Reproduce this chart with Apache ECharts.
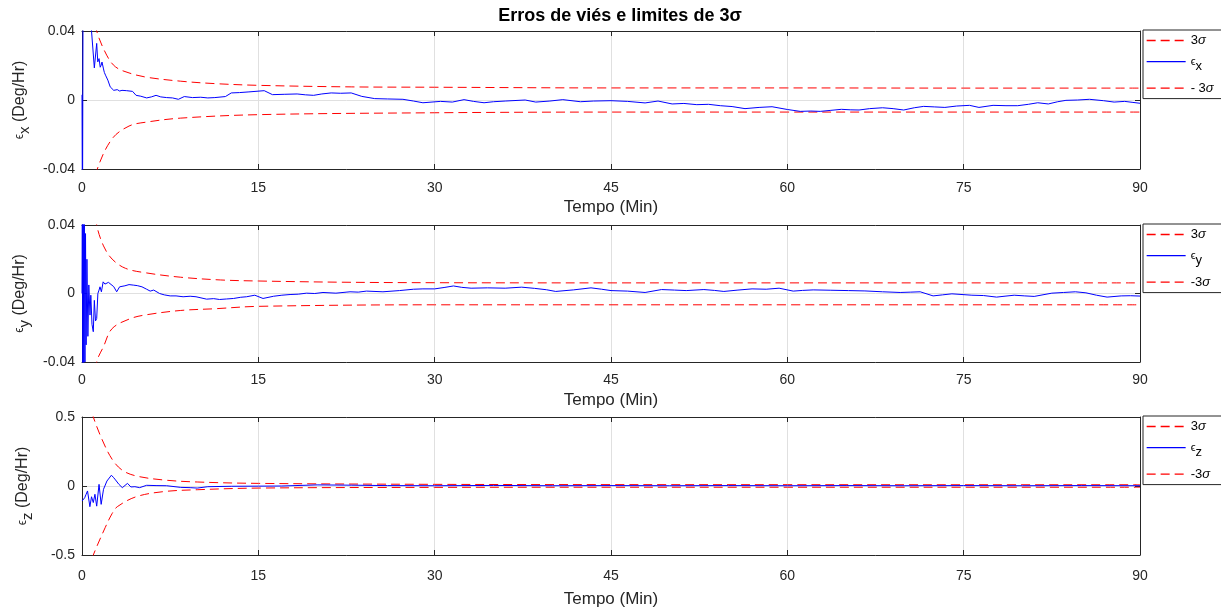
<!DOCTYPE html>
<html>
<head>
<meta charset="utf-8">
<script src="https://cdn.jsdelivr.net/npm/echarts@6/dist/echarts.min.js"></script>
<style>html,body{margin:0;padding:0;background:#fff;}#c{width:1221px;height:610px;}</style>
</head>
<body>
<div id="c"></div>
<script>
// ---------- data ----------
const xTicks = [0, 15, 30, 45, 60, 75, 90];

// plot 1 (epsilon x)
const sx_up_t = [1.0, 1.25, 2.1, 2.85, 4.0, 5.5, 8.4, 11.3, 15, 22.9, 30, 45, 60, 75, 90];
const sx_up_v = [0.052, 0.040, 0.026, 0.0192, 0.0157, 0.0132, 0.0109, 0.0095, 0.0085, 0.0076, 0.0074, 0.0070, 0.0070, 0.0069, 0.0069];
const sx_lo_t = [1.0, 1.3, 2.56, 4.0, 5.5, 8.4, 15, 30, 45, 60, 75, 90];
const sx_lo_v = [-0.052, -0.040, -0.0225, -0.0151, -0.0128, -0.0105, -0.0085, -0.0074, -0.0070, -0.0070, -0.0070, -0.0070];
const ex_t = [0,0.04,0.1,0.5,0.81,1.05,1.25,1.34,1.45,1.55,1.63,1.7,1.83,1.9,2.0,2.2,2.4,2.7,3.0,3.2,3.4,3.8,4.3,4.6,5.0,5.5,5.9,6.3,6.7,7.2,7.7,8.2,8.7,9.4,10.1,10.7,11.3,12.2,12.7,13.4,14.2,15.5,16.2,17.2,18.3,19.0,19.7,20.4,21.2,22.0,22.9,23.8,24.9,26.0,27.3,28.2,29.0,30.5,31.5,32.5,33.3,34.2,35.0,36.0,37.7,38.6,39.8,40.9,42.4,43.5,45,46.4,47.9,49.0,50.2,51.2,52.3,53.3,54.3,55.3,56.4,57.6,58.7,60.0,61.1,62.0,62.8,63.7,64.6,65.4,66.1,67.0,68.1,69.0,69.9,70.8,71.6,72.5,73.4,74.4,75.5,76.3,77.5,78.6,79.6,80.5,81.3,82.2,83.0,83.7,84.7,85.7,86.9,87.8,88.7,89.4,90];
const ex_v = [0.003,-0.08,0.09,0.07,0.04,0.0186,0.0328,0.0221,0.024,0.019,0.0202,0.022,0.018,0.016,0.0144,0.0115,0.0076,0.0056,0.006,0.0052,0.0056,0.0054,0.005,0.0027,0.0022,0.0012,0.0018,0.0027,0.0018,0.0014,0.0012,0.0004,0.002,0.0014,0.0016,0.0012,0.0014,0.002,0.0041,0.0043,0.0047,0.0054,0.0031,0.0033,0.0035,0.003,0.0027,0.0035,0.0041,0.0039,0.0041,0.0021,0.0008,0.0006,0.0004,-0.0006,-0.0016,-0.0008,-0.0012,0.0002,-0.0008,-0.0016,-0.001,-0.0006,0,-0.0012,-0.0006,0.0002,-0.001,-0.0006,-0.0004,-0.0008,-0.0017,-0.0006,-0.0023,-0.002,-0.0027,-0.0025,-0.0033,-0.0038,-0.005,-0.0043,-0.0039,-0.0055,-0.0066,-0.0064,-0.0066,-0.006,-0.0054,-0.0057,-0.0058,-0.005,-0.0045,-0.005,-0.0058,-0.0045,-0.0037,-0.004,-0.0043,-0.0035,-0.0031,-0.0043,-0.0031,-0.0033,-0.0033,-0.0025,-0.0016,-0.0023,-0.001,-0.0002,0,0.0004,-0.0004,-0.0012,-0.0008,-0.0014,-0.0019];

// plot 2 (epsilon y)
const sy_up_t = [1.2, 1.25, 1.83, 2.56, 3.7, 5.5, 8.4, 11.8, 15, 22, 30, 45, 60, 75, 90];
const sy_up_v = [0.045, 0.040, 0.0278, 0.0201, 0.0147, 0.012, 0.0095, 0.0079, 0.0073, 0.0066, 0.0063, 0.0062, 0.0062, 0.0062, 0.0062];
const sy_lo_t = [1.2, 1.25, 1.83, 2.56, 4.1, 5.5, 8.4, 11.3, 15, 30, 45, 60, 75, 90];
const sy_lo_v = [-0.045, -0.040, -0.031, -0.0205, -0.0147, -0.0124, -0.0099, -0.0089, -0.0075, -0.0066, -0.0066, -0.0066, -0.0066, -0.0066];
const ey_t = [0,0.03,0.07,0.11,0.15,0.2,0.25,0.3,0.35,0.42,0.5,0.58,0.68,0.75,0.85,0.96,1.05,1.15,1.25,1.35,1.45,1.53,1.65,1.8,1.95,2.1,2.25,2.4,2.7,2.95,3.2,3.65,4.0,4.36,4.7,5.1,5.5,5.8,6.1,6.6,7.0,7.5,8.0,8.6,9.2,9.7,10.6,11.2,11.7,12.3,12.9,13.5,14.0,14.7,15.4,16.3,17.0,17.7,18.4,19.1,19.8,20.5,21.6,22.8,23.5,24.2,25.6,27,28.2,29.0,30,30.8,31.6,32.3,33.1,34.5,36,37.4,38.5,39.5,40.3,41.8,43.3,44.2,45,46.4,47.9,49.3,50.4,51.4,52.9,53.8,54.6,55.8,57,58.2,59.3,60.5,61.3,62.2,63.7,65.2,66.6,68.1,69.6,70.5,71.3,72.4,73.2,74,75.7,76.7,77.8,78.6,79.3,80.2,81,82.5,83.5,84.5,85.4,86.3,87.2,88.4,89.2,90];
const ey_v = [0,0.06,-0.06,0.05,-0.05,0.045,-0.04,0.035,-0.03,0.02,-0.025,0.005,-0.0126,-0.001,-0.018,-0.0223,-0.004,-0.016,-0.0146,0,0.002,0.0039,0.001,0.0068,0.0055,0.0049,0.0065,0.0058,0.004,0.001,0.0039,0.0045,0.0052,0.0049,0.0046,0.0039,0.0025,0.0014,0.002,0,-0.0008,-0.0014,-0.0014,-0.0019,-0.0016,-0.0019,-0.0033,-0.003,-0.0035,-0.0032,-0.0029,-0.0022,-0.0019,-0.001,-0.0029,-0.0016,-0.001,-0.0006,-0.0004,0.0002,0,0.0006,0.0002,0.001,0.0008,0.0014,0.001,0.0017,0.0025,0.0027,0.0027,0.0035,0.0044,0.0036,0.0031,0.0033,0.0031,0.0037,0.003,0.0022,0.0012,0.0021,0.0033,0.0025,0.0017,0.0014,0.0006,0.0023,0.002,0.0017,0.0023,0.0018,0.0012,0.002,0.0027,0.0025,0.0031,0.0014,0.0018,0.0021,0.0019,0.0017,0.0015,0.001,0.0006,0.0008,0.001,-0.0014,-0.0008,-0.0002,-0.001,-0.0012,-0.0021,-0.0015,-0.001,-0.0014,-0.0017,0.0002,0.0006,0.001,0.0004,-0.001,-0.0021,-0.0014,-0.0013,-0.0015];

// plot 3 (epsilon z)
const sz_up_t = [0.9, 0.96, 1.69, 2.56, 3.43, 4.6, 6.9, 9.8, 15, 30, 45, 60, 75, 90];
const sz_up_v = [0.53, 0.50, 0.34, 0.194, 0.114, 0.073, 0.044, 0.029, 0.019, 0.012, 0.010, 0.0095, 0.009, 0.009];
const sz_lo_t = [0.9, 0.96, 1.98, 2.56, 3.0, 4.6, 6.9, 9.8, 15, 30, 45, 60, 75, 90];
const sz_lo_v = [-0.53, -0.50, -0.30, -0.20, -0.15, -0.078, -0.041, -0.027, -0.015, -0.010, -0.009, -0.009, -0.009, -0.009];
const ez_t = [0,0.23,0.35,0.47,0.67,0.81,0.96,1.1,1.25,1.45,1.63,1.83,2.12,2.5,2.7,2.85,3.0,3.14,3.43,3.87,4.16,4.5,4.9,5.5,6.3,7.2,8.4,9.2,9.8,10.7,12.7,15,17,20,22.9,26,30,35,40,45,50,55,60,65,70,75,80,85,90];
const ez_v = [-0.109,-0.085,-0.06,-0.036,-0.15,-0.078,-0.12,-0.06,-0.146,0.012,-0.133,-0.024,0.036,0.078,0.06,0.044,0.055,0.012,-0.012,0.019,-0.007,-0.005,-0.012,0.005,0.003,0.002,-0.01,-0.012,-0.015,-0.005,-0.002,-0.001,0,0.008,0.006,0.003,0.002,0.004,0.002,0.003,0.002,0.003,0.002,0.003,0.002,0.003,0.002,0.003,0.002];

const yRanges = [[-0.04, 0.04, 0.04], [-0.04, 0.04, 0.04], [-0.5, 0.5, 0.5]];
const subs = ['x', 'y', 'z'];
const lowLabels = ['- 3{i|σ}', '-3{i|σ}', '-3{i|σ}'];

// ---------- chart ----------
const FONT = "'Liberation Sans', Arial, Helvetica, sans-serif";
const AX = '#262626';
const GRIDC = '#e0e0e0';
const zip = (t, v) => t.map((x, i) => [x, v[i]]);

const gridTops = [31, 225, 417];
const gridHeights = [138, 137, 138];
const labelMargins = [12, 11, 14];
const nameGaps = [30, 30, 36];
const dataSets = [
  [zip(sx_up_t, sx_up_v), zip(ex_t, ex_v), zip(sx_lo_t, sx_lo_v)],
  [zip(sy_up_t, sy_up_v), zip(ey_t, ey_v), zip(sy_lo_t, sy_lo_v)],
  [zip(sz_up_t, sz_up_v), zip(ez_t, ez_v), zip(sz_lo_t, sz_lo_v)]
];

const grids = [], xAxes = [], yAxes = [], series = [], legends = [];
const legendText = {};
for (let i = 0; i < 3; i++) {
  grids.push({left: 82, right: 81, top: gridTops[i], height: gridHeights[i], containLabel: false});
  xAxes.push({
    type: 'value', gridIndex: i, min: 0, max: 90, interval: 15, position: 'bottom',
    name: 'Tempo (Min)', nameLocation: 'middle', nameGap: nameGaps[i],
    nameTextStyle: {fontFamily: FONT, fontSize: 17, color: AX},
    axisLine: {show: true, onZero: false, lineStyle: {color: AX, width: 1}},
    axisTick: {show: true, inside: true, length: 5, lineStyle: {color: AX}},
    axisLabel: {fontFamily: FONT, fontSize: 14, color: AX, margin: labelMargins[i]},
    splitLine: {show: true, lineStyle: {color: GRIDC, width: 1}}
  });
  xAxes.push({
    type: 'value', gridIndex: i, min: 0, max: 90, interval: 15, position: 'top',
    axisLine: {show: true, onZero: false, lineStyle: {color: AX, width: 1}},
    axisTick: {show: true, inside: true, length: 5, lineStyle: {color: AX}},
    axisLabel: {show: false}, splitLine: {show: false}
  });
  const r = yRanges[i];
  yAxes.push({
    type: 'value', gridIndex: i, min: r[0], max: r[1], interval: r[2], position: 'left',
    name: '{e|ϵ}{s|' + subs[i] + '} (Deg/Hr)', nameLocation: 'middle', nameGap: 47,
    nameTextStyle: {fontFamily: FONT, fontSize: 16, color: AX,
      rich: {e: {fontFamily: FONT, fontSize: 12, color: AX},
             s: {fontFamily: FONT, fontSize: 15, color: AX, padding: [10, 0, 0, 0]}}},
    axisLine: {show: true, onZero: false, lineStyle: {color: AX, width: 1}},
    axisTick: {show: true, inside: true, length: 5, lineStyle: {color: AX}},
    axisLabel: {fontFamily: FONT, fontSize: 14, color: AX, margin: 7},
    splitLine: {show: true, lineStyle: {color: GRIDC, width: 1}}
  });
  yAxes.push({
    type: 'value', gridIndex: i, min: r[0], max: r[1], interval: r[2], position: 'right',
    axisLine: {show: true, onZero: false, lineStyle: {color: AX, width: 1}},
    axisTick: {show: true, inside: true, length: 5, lineStyle: {color: AX}},
    axisLabel: {show: false}, splitLine: {show: false}
  });
  const names = ['p' + i + '_up', 'p' + i + '_e', 'p' + i + '_lo'];
  legendText[names[0]] = '3{i|σ}';
  legendText[names[1]] = '{ep|ϵ}{sb|' + subs[i] + '}';
  legendText[names[2]] = lowLabels[i];
  const styles = [
    {color: '#ff0000', width: 1, type: [9, 5]},
    {color: '#0000ff', width: 1, type: 'solid'},
    {color: '#ff0000', width: 1, type: [9, 5]}
  ];
  for (let k = 0; k < 3; k++) {
    series.push({
      name: names[k], type: 'line', xAxisIndex: 2 * i, yAxisIndex: 2 * i,
      data: dataSets[i][k], showSymbol: false, symbol: 'none',
      smooth: k === 1 ? false : 0.35,
      lineStyle: styles[k], itemStyle: {color: styles[k].color},
      emphasis: {disabled: true}, animation: false, clip: true, z: k === 1 ? 3 : 2
    });
  }
  legends.push({
    data: names, orient: 'vertical', left: 1143, top: gridTops[i] - 1,
    itemWidth: 39, itemHeight: 14, itemGap: 9, padding: [4, 40, 4, 3],
    borderColor: AX, borderWidth: 1, backgroundColor: '#fff',
    selectedMode: false,
    itemStyle: {opacity: 0, borderWidth: 0},
    lineStyle: {width: 1.3},
    formatter: name => legendText[name],
    textStyle: {fontFamily: FONT, fontSize: 13, color: '#000',
      rich: {i: {fontFamily: FONT, fontSize: 13, fontStyle: 'italic', color: '#000'},
             ep: {fontFamily: FONT, fontSize: 11, color: '#000'},
             sb: {fontFamily: FONT, fontSize: 13, color: '#000', padding: [9, 0, 0, 0]}}}
  });
}

const chart = echarts.init(document.getElementById('c'), null, {renderer: 'canvas'});
chart.setOption({
  animation: false,
  backgroundColor: '#ffffff',
  title: {text: 'Erros de viés e limites de 3σ', left: 615, textAlign: 'center', top: 2,
    textStyle: {fontFamily: FONT, fontSize: 18, fontWeight: 'bold', color: '#000'}},
  grid: grids, xAxis: xAxes, yAxis: yAxes, series: series, legend: legends
});
</script>
</body>
</html>
